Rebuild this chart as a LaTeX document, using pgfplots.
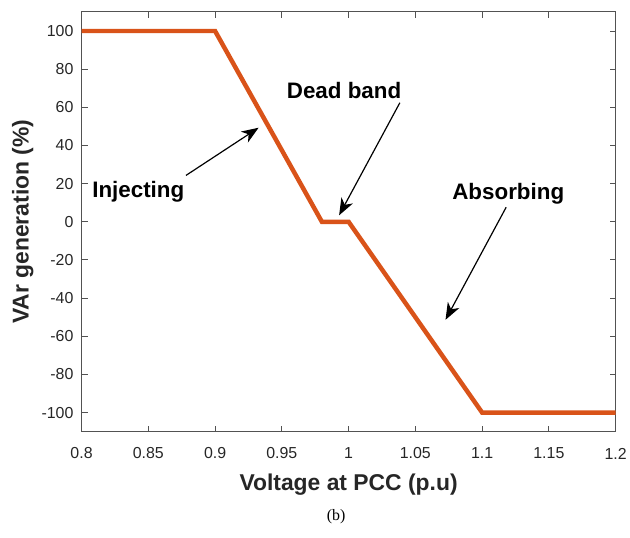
\documentclass[border=0pt]{standalone}
\usepackage{pgfplots}
\pgfplotsset{compat=1.18}
\usepackage{fontspec}
\setmainfont{Liberation Sans}
\newfontfamily\capfont{Liberation Serif}
\usetikzlibrary{arrows.meta}
\definecolor{mlorange}{rgb}{0.85,0.325,0.098}
\definecolor{axgray}{rgb}{0.15,0.15,0.15}
\begin{document}
\begin{tikzpicture}
\begin{axis}[
    width=537pt, height=422pt, scale only axis,
    xmin=0.8, xmax=1.2, ymin=-110, ymax=110,
    xtick={0.8,0.85,0.9,0.95,1,1.05,1.1,1.15,1.2},
    ytick={-100,-80,-60,-40,-20,0,20,40,60,80,100},
    tick align=inside, major tick length=6pt,
    axis line style={draw=axgray!80, line width=0.9pt},
    tick style={draw=axgray!80, line width=0.9pt},
    /pgf/number format/assume math mode=true,
    ticklabel style={font=\fontsize{16}{18}\selectfont, text=axgray},
    xticklabel style={anchor=center, yshift=-22pt},
    yticklabel style={anchor=east, inner sep=0pt, xshift=-8pt},
    xlabel={\textbf{Voltage at PCC (p.u)}},
    ylabel={\textbf{VAr generation (\%)}},
    label style={font=\fontsize{23}{26}\selectfont, text=axgray},
    xlabel style={at={(axis description cs:0.5,-0.1256)}, anchor=center},
    ylabel style={at={(axis description cs:-0.11,0.5)}, anchor=center},
]
\addplot[color=mlorange, line width=4.5pt, line join=miter] coordinates {
    (0.8,100) (0.9,100) (0.98,0) (1.0,0) (1.1,-100) (1.2,-100)
};
\begin{scope}[font=\fontsize{22.5}{25}\selectfont\bfseries]
\node at (axis cs:0.8425,15.9) {Injecting};
\node at (axis cs:0.9966,68.7) {Dead band};
\node at (axis cs:1.1196,14.9) {Absorbing};
\end{scope}
\begin{scope}[line width=1.2pt, -{Stealth[length=17pt,width=13pt,inset=5pt]}]
\draw (axis cs:0.8782,24.3) -- (axis cs:0.9326,49.3);
\draw (axis cs:1.0384,62.4) -- (axis cs:0.9929,3.4);
\draw (axis cs:1.118,7.6) -- (axis cs:1.0726,-51.4);
\end{scope}
\end{axis}
\node[font=\capfont\fontsize{16}{18}\selectfont] at (256pt,-86pt) {(b)};
\path (-82pt,-106pt) rectangle (548pt,434pt);
\end{tikzpicture}
\end{document}
